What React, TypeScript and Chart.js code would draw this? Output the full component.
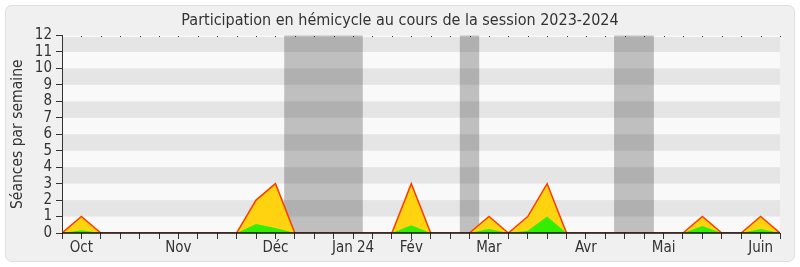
import React, { useEffect, useRef } from "react";
import { Chart, registerables } from "chart.js";

Chart.register(...registerables);

const TITLE = "Participation en hémicycle au cours de la session 2023-2024";
const Y_TITLE = "Séances par semaine";

// one value per week of the session (week index 0..37)
const totalSessions = [0, 1, 0, 0, 0, 0, 0, 0, 0, 0, 2, 3, 0, 0, 0, 0, 0, 0, 3, 0, 0, 0, 1, 0, 1, 3, 0, 0, 0, 0, 0, 0, 0, 1, 0, 0, 1, 0];
const greenSessions = [0, 0.17, 0, 0, 0, 0, 0, 0, 0, 0, 0.55, 0.3, 0, 0, 0, 0, 0, 0, 0.47, 0, 0, 0, 0.25, 0, 0.14, 1, 0, 0, 0, 0, 0, 0, 0, 0.43, 0, 0, 0.24, 0];

const monthTickWeeks = [1, 6, 11, 15, 18, 22, 27, 31, 36];
const monthLabels = ["Oct", "Nov", "Déc", "Jan 24", "Fév", "Mar", "Avr", "Mai", "Juin"];

const yMax = 12;

// parliamentary breaks, in week units
const breakStarts = [11.45, 20.5, 28.45];
const breakEnds = [15.5, 21.5, 30.5];

const FONT = '"DejaVu Sans Condensed", "DejaVu Sans", sans-serif';

const decorPlugin = {
  id: "decor",
  beforeDraw(chart: any) {
    const { ctx, chartArea: a, scales } = chart;
    const x = scales.x;
    const y = scales.y;
    ctx.save();
    ctx.fillStyle = "#ffffff";
    ctx.fillRect(0, 0, chart.width, chart.height);
    ctx.beginPath();
    ctx.roundRect(5.5, 5.5, 789, 256, 6);
    ctx.fillStyle = "#f0f0f0";
    ctx.fill();
    ctx.strokeStyle = "#dedede";
    ctx.lineWidth = 1;
    ctx.stroke();

    // plot background stripes
    ctx.fillStyle = "#f9f9f9";
    ctx.fillRect(a.left, a.top, a.right - a.left, a.bottom - a.top);
    for (let k = 1; k < yMax; k += 2) {
      const y0 = y.getPixelForValue(k);
      let y1 = y.getPixelForValue(k + 1);
      if (k + 1 === yMax) y1 += 1.5;
      ctx.fillStyle = "#e5e5e5";
      ctx.fillRect(a.left, y1, a.right - a.left, y0 - y1);
    }

    // breaks
    ctx.fillStyle = "rgba(0,0,0,0.23)";
    for (let i = 0; i < breakStarts.length; i++) {
      const x0 = x.getPixelForValue(breakStarts[i]);
      const x1 = x.getPixelForValue(breakEnds[i]);
      ctx.fillRect(x0, a.top, x1 - x0, a.bottom - a.top);
    }

    // dotted marks along top
    ctx.fillStyle = "#333";
    for (let i = 0; i < totalSessions.length; i++) {
      const px = Math.round(x.getPixelForValue(i));
      ctx.fillRect(px, Math.round(a.top), 1, 1);
    }

    // title
    ctx.fillStyle = "#333";
    ctx.font = `16px ${FONT}`;
    ctx.textAlign = "center";
    ctx.textBaseline = "alphabetic";
    ctx.fillText(TITLE, 400, 25);

    // y title
    ctx.translate(18, (a.top + a.bottom) / 2);
    ctx.rotate(-Math.PI / 2);
    ctx.font = `15.5px ${FONT}`;
    ctx.textBaseline = "middle";
    ctx.fillText(Y_TITLE, 0, 0);
    ctx.restore();
  },
  afterDatasetsDraw(chart: any) {
    const { ctx, chartArea: a } = chart;
    ctx.save();
    ctx.strokeStyle = "#111";
    ctx.lineWidth = 1.6;
    ctx.beginPath();
    ctx.moveTo(a.left, a.bottom);
    ctx.lineTo(a.right, a.bottom);
    ctx.stroke();
    ctx.restore();
  },
};

export default function App() {
  const ref = useRef<HTMLCanvasElement | null>(null);
  useEffect(() => {
    document.body.style.margin = "0";
    const canvas = ref.current;
    if (!canvas) return;
    const chart = new Chart(canvas, {
      type: "line",
      data: {
        datasets: [
          {
            data: greenSessions.map((v, i) => ({ x: i, y: v })),
            backgroundColor: "#33ee00",
            borderColor: "rgba(0,0,0,0)",
            borderWidth: 0,
            fill: "origin",
            pointRadius: 0,
            tension: 0,
            order: 0,
          },
          {
            data: totalSessions.map((v, i) => ({ x: i, y: v })),
            backgroundColor: "#ffd30f",
            borderColor: "#ff3c00",
            borderWidth: 1.5,
            fill: "origin",
            pointRadius: 0,
            tension: 0,
            order: 1,
          },
        ],
      },
      options: {
        responsive: false,
        animation: false,
        events: [],
        layout: { padding: { top: 35.5, right: 20, bottom: 0, left: 0 } },
        plugins: { legend: { display: false }, tooltip: { enabled: false }, title: { display: false } },
        scales: {
          x: {
            type: "linear",
            min: 0,
            max: totalSessions.length - 1,
            afterFit: (s: any) => {
              s.height = 34;
            },
            afterBuildTicks: (s: any) => {
              s.ticks = totalSessions.map((_, i) => ({ value: i }));
            },
            ticks: {
              autoSkip: false,
              maxRotation: 0,
              padding: 0,
              color: "#333",
              font: { family: FONT, size: 15 },
              callback: (v: any) => {
                const k = monthTickWeeks.indexOf(Number(v));
                return k >= 0 ? monthLabels[k] : "";
              },
            },
            grid: { drawOnChartArea: false, drawTicks: true, tickLength: 6, color: "#333" },
            border: { display: false },
          },
          y: {
            min: 0,
            max: yMax,
            afterFit: (s: any) => {
              s.width = 62;
            },
            ticks: {
              stepSize: 1,
              autoSkip: false,
              padding: 4,
              color: "#333",
              font: { family: FONT, size: 15 },
            },
            grid: { drawOnChartArea: false, drawTicks: true, tickLength: 6, color: "#333" },
            border: { display: true, color: "#333" },
          },
        },
      },
      plugins: [decorPlugin],
    });
    return () => chart.destroy();
  }, []);
  return (
    <div style={{ position: "absolute", left: 0, top: 0, width: 800, height: 267 }}>
      <canvas ref={ref} width={800} height={267} />
    </div>
  );
}
